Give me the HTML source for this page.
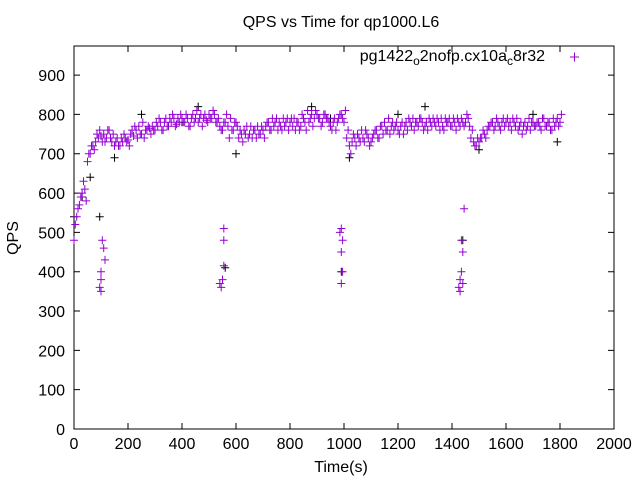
<!DOCTYPE html>
<html><head><meta charset="utf-8"><style>
body{margin:0;background:#fff}
svg{font-family:"Liberation Sans",Arial,sans-serif;font-size:16px}
</style></head><body>
<svg id="c" width="640" height="480">
<text x="341" y="27" text-anchor="middle">QPS vs Time for qp1000.L6</text>
<text x="341" y="472" text-anchor="middle">Time(s)</text>
<text transform="translate(18,238) rotate(-90)" text-anchor="middle">QPS</text>
<g id="axes"></g>
<g id="marks"></g>
<g>
<text x="545" y="61" text-anchor="end">pg1422<tspan dy="4" font-size="12">o</tspan><tspan dy="-4">2nofp.cx10a</tspan><tspan dy="4" font-size="12">c</tspan><tspan dy="-4">8r32</tspan></text>
<path d="M570 57h9M574.5 52.5v9" stroke="#9400d3" stroke-width="1"/>
</g>
</svg>
<script>
const xTicks=[0,200,400,600,800,1000,1200,1400,1600,1800,2000];
const yTicks=[0,100,200,300,400,500,600,700,800,900];
const mainY=[480,540,570,600,610,680,700,720,730,740,745,
750,740,760,730,720,740,720,730,740,735,
750,745,760,770,750,740,760,765,770,760,
770,780,760,790,770,780,790,775,780,790,
780,790,770,800,790,780,800,790,785,800,
790,800,780,770,760,780,770,790,760,780,
740,750,760,770,750,740,760,770,750,760,
770,780,760,770,790,780,760,770,790,780,
770,760,780,770,790,760,780,800,790,800,
790,780,800,790,770,780,760,790,800,780,
740,720,730,740,750,730,740,760,740,730,
750,760,740,770,780,760,750,780,770,760,
770,750,780,790,770,760,780,790,780,770,
760,780,790,770,780,790,760,780,790,770,
780,790,770,780,780,790,740,730,720,730,
740,750,760,770,780,770,780,760,790,780,
770,760,780,790,770,750,780,770,760,780,
770,780,760,790,770,780,760,770,790,780];
const mainY2=[520,560,590,630,580,700,720,710,750,760,730,
730,760,740,750,730,720,740,750,730,720,
760,770,740,750,780,760,770,750,760,780,
790,760,780,770,790,800,770,790,800,780,
800,770,790,780,810,790,770,800,780,790,
810,780,790,760,780,800,740,760,780,770,
760,730,750,740,770,760,740,750,770,740,
780,760,790,780,760,770,790,780,760,790,
790,780,760,800,780,810,790,770,810,790,
770,800,790,780,760,790,780,800,790,810,
760,700,750,720,740,760,730,750,720,740,
760,740,770,750,760,790,770,760,780,750,
780,770,760,780,790,780,770,790,760,780,
790,770,780,790,760,770,790,780,770,790,
760,780,790,770,800,770,760,720,740,740,
760,740,770,780,760,790,770,780,770,790,
780,790,770,760,780,770,760,790,780,770,
780,770,790,770,780,760,790,780,770,800];
const dipX=[100,100,105,110,100,115,95,545,550,555,555,555,540,990,990,985,995,995,990,1430,1430,1435,1435,1440,1445,1440,1425];
const dipY=[350,380,480,460,400,430,360,360,380,415,480,510,370,370,450,500,480,400,510,350,380,400,480,370,560,450,360];
const blackX=[0,30,60,95,150,250,400,460,560,600,700,880,950,990,1020,1200,1300,1440,1500,1700,1790];
const blackY=[540,590,640,540,690,800,780,820,410,700,760,820,790,400,690,800,820,480,710,800,730];
const X0=74,X1=614,Y0=429,YT=46,YMAX=974;
const sx=v=>X0+(X1-X0)*v/2000, sy=v=>Y0-(Y0-YT)*v/YMAX;
const NS='http://www.w3.org/2000/svg';
const ax=document.getElementById('axes'), mk=document.getElementById('marks');
function el(t,a,p){const e=document.createElementNS(NS,t);for(const k in a)e.setAttribute(k,a[k]);p.appendChild(e);return e;}
const fr=el('rect',{x:X0,y:YT,width:X1-X0,height:Y0-YT,fill:'none',stroke:'#000','stroke-width':1},ax);


xTicks.forEach(v=>{const x=sx(v);
el('path',{d:`M${x} ${Y0}v-6M${x} ${YT}v6`,stroke:'#000'},ax);
const t=el('text',{x:x,y:Y0+20,'text-anchor':'middle'},ax);t.textContent=v;

});
yTicks.forEach(v=>{const y=sy(v);
el('path',{d:`M${X0} ${y}h6M${X1} ${y}h-6`,stroke:'#000'},ax);
const t=el('text',{x:X0-9,y:y+6,'text-anchor':'end'},ax);t.textContent=v;

});
let d='',dk='';
const plus=(x,y)=>`M${(x-4).toFixed(1)} ${y.toFixed(1)}h8M${x.toFixed(1)} ${(y-4).toFixed(1)}v8`;
blackX.forEach((v,i)=>{dk+=plus(sx(v),sy(blackY[i]));});
mainY.forEach((v,i)=>{d+=plus(sx(i*10),sy(v));});
mainY2.forEach((v,i)=>{d+=plus(sx(i*10+5),sy(v));});
dipX.forEach((v,i)=>{d+=plus(sx(v),sy(dipY[i]));});
const pk=el('path',{d:dk,stroke:'#000',fill:'none'},mk);


const pm=el('path',{d:d,stroke:'#9400d3',fill:'none'},mk);


</script>
</body></html>
